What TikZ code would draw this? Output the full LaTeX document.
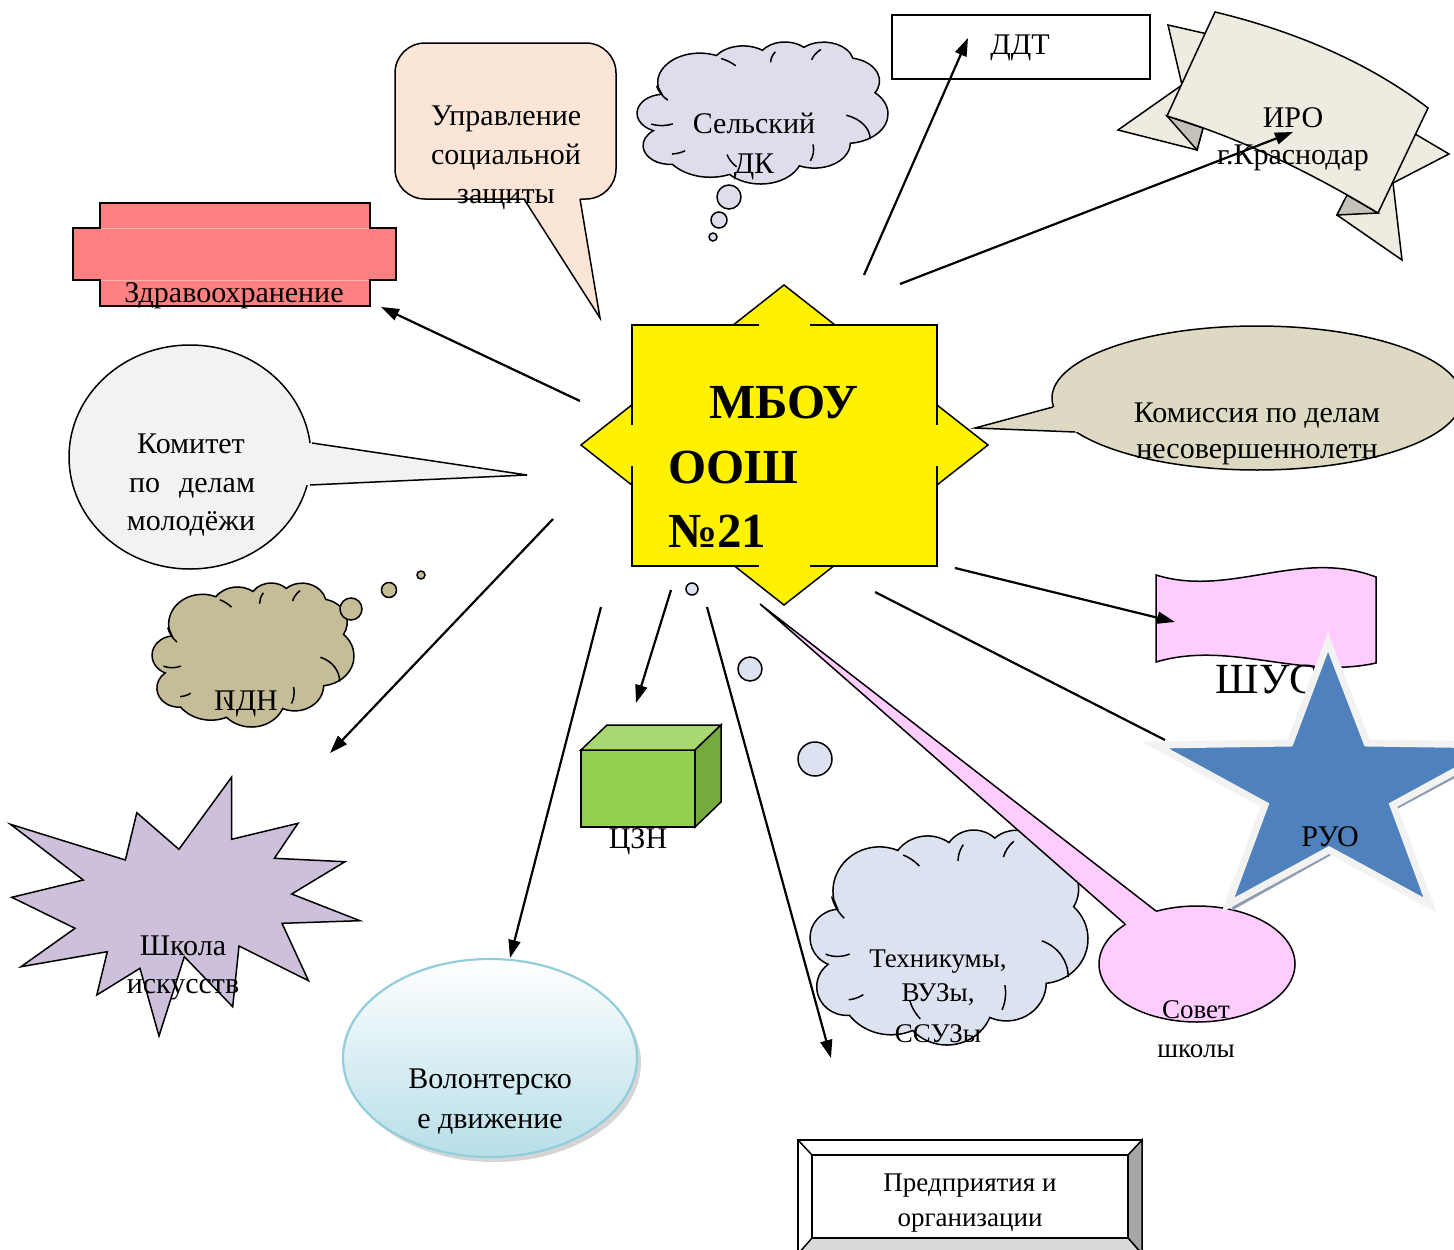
\documentclass[tikz,border=0pt]{standalone}
\usepackage{fontspec}
\setmainfont{Liberation Serif}
\usetikzlibrary{arrows.meta}
\definecolor{zdrav}{HTML}{FF8080}
\definecolor{zdravline}{HTML}{FFB3B3}
\definecolor{upr}{HTML}{FBE5D6}
\definecolor{lav}{HTML}{E1DCEB}
\definecolor{ribbon}{HTML}{EEECE1}
\definecolor{ribbongray}{HTML}{C4C2B8}
\definecolor{komis}{HTML}{DDD9C3}
\definecolor{komit}{HTML}{F2F2F2}
\definecolor{pdn}{HTML}{C4BD97}
\definecolor{shk}{HTML}{CCC0DA}
\definecolor{volf}{HTML}{B7DEE8}
\definecolor{volb}{HTML}{92CDDC}
\definecolor{cubefront}{HTML}{92D050}
\definecolor{cubetop}{HTML}{A9D872}
\definecolor{cubeside}{HTML}{76AA3E}
\definecolor{tech}{HTML}{DCE2F0}
\definecolor{pink}{HTML}{FFCCFF}
\definecolor{starblue}{HTML}{4F81BD}
\definecolor{starrim}{HTML}{F2F2F2}
\definecolor{starshadow}{HTML}{8E9CB2}
\definecolor{bevelgray}{HTML}{A6A6A6}
\definecolor{bevellight}{HTML}{D9D9D9}
% Word-style cloud: #1 fill, #2 left, #3 top, #4 right, #5 bottom
\newcommand{\wordcloud}[5]{%
 \begin{scope}[shift={(#2,#3)},xscale={(#4-#2)/403.9},yscale={(#5-#3)/444.65},shift={(-4.53,-0.23)}]
  \draw[outl,fill=#1] (39.00,143.70)
   arc[start angle=190.4875,delta angle=-123.7805,x radius=67.53pt,y radius=91.90pt]
   arc[start angle=144.1024,delta angle=-89.9452,x radius=53.33pt,y radius=72.67pt]
   arc[start angle=145.8079,delta angle=-99.7230,x radius=43.65pt,y radius=59.45pt]
   arc[start angle=130.9861,delta angle=-117.2417,x radius=48.57pt,y radius=65.95pt]
   arc[start angle=78.7089,delta angle=-109.0269,x radius=53.33pt,y radius=72.73pt]
   arc[start angle=46.2673,delta angle=-130.2690,x radius=67.75pt,y radius=92.20pt]
   arc[start angle=-0.6250,delta angle=-114.0333,x radius=57.85pt,y radius=78.67pt]
   arc[start angle=-22.4516,delta angle=-115.1726,x radius=67.52pt,y radius=92.15pt]
   arc[start angle=-66.2426,delta angle=-75.7110,x radius=77.20pt,y radius=105.43pt]
   arc[start angle=274.9421,delta angle=-146.7356,x radius=43.60pt,y radius=59.18pt]
   arc[start angle=246.8285,delta angle=-152.5189,x radius=43.45pt,y radius=59.45pt]
   -- cycle;
  \draw[outl]
   (46.93,261.77) arc[start angle=-86.742,end angle=-113.17,x radius=43.45pt,y radius=59.45pt]
   (46.93,261.77) arc[start angle=-86.742,end angle=-66,x radius=43.45pt,y radius=59.45pt]
   (69.28,348.99) arc[start angle=-73.61,end angle=-85.06,x radius=43.60pt,y radius=59.18pt]
   (69.28,348.99) arc[start angle=-73.61,end angle=-55,x radius=43.60pt,y radius=59.18pt]
   (164.78,390.90) arc[start angle=-137.62,end angle=-165,x radius=67.52pt,y radius=92.15pt]
   (288.27,347.51) arc[start angle=-6.45,end angle=-22.45,x radius=67.52pt,y radius=92.15pt]
   (288.27,347.51) arc[start angle=-6.45,end angle=10,x radius=67.52pt,y radius=92.15pt]
   (341.29,229.54) arc[start angle=70.2924,delta angle=-70.9174,x radius=57.85pt,y radius=78.67pt]
   (290.78,39.52) arc[start angle=149.18,end angle=130.99,x radius=48.57pt,y radius=65.95pt]
   (290.78,39.52) arc[start angle=149.18,end angle=165,x radius=48.57pt,y radius=65.95pt]
   (221.41,47.20) arc[start angle=163.49,end angle=145.81,x radius=43.65pt,y radius=59.45pt]
   (221.41,47.20) arc[start angle=163.49,end angle=180,x radius=43.65pt,y radius=59.45pt]
   (140.00,51.92) arc[start angle=66.71,end angle=42,x radius=67.53pt,y radius=91.90pt]
   (41.27,157.89) arc[start angle=-153.95,end angle=-167.3,x radius=67.53pt,y radius=91.90pt]
   (41.27,157.89) arc[start angle=-153.95,end angle=-135,x radius=67.53pt,y radius=91.90pt];
 \end{scope}}
\begin{document}
\begin{tikzpicture}[x=1pt,y=-1pt,
  outl/.style={draw=black,line width=1.5pt,line join=miter},
  conn/.style={line width=2.2pt,-{Triangle[length=18pt,width=12pt]}},
  plainconn/.style={line width=2.2pt},
  lbl/.style={font=\fontsize{30}{36}\selectfont,anchor=base,inner sep=0pt},
  smalllbl/.style={font=\fontsize{27}{32}\selectfont,anchor=base,inner sep=0pt},
  ctext/.style={font=\fontsize{49}{58}\selectfont\bfseries,anchor=base west,inner sep=0pt}
]
\useasboundingbox (0,0) rectangle (1454,1250);
\fill[white] (0,0) rectangle (1454,1250);

% ---------- Здравоохранение
\draw[outl,fill=zdrav] (100,203) -- (370,203) -- (370,228) -- (396,228) -- (396,280) -- (370,280) -- (370,306) -- (100,306) -- (100,280) -- (73,280) -- (73,228) -- (100,228) -- cycle;
\draw[zdravline,line width=1pt] (101,228) -- (369,228) (101,280) -- (369,280);
\node[lbl] (zdravT) at (234,302) {Здравоохранение};

% ---------- Управление социальной защиты
\draw[outl,fill=upr,rounded corners=30pt] (395,43) rectangle (616,199);
\fill[upr] (524,196.8) -- (580,196.8) -- (600,318) -- cycle;
\draw[outl] (524,199) -- (600,318) -- (580,199);
\node[lbl] (uprA) at (506,125) {Управление};
\node[lbl] (uprB) at (506,164) {социальной};
\node[lbl] (uprC) at (506,203) {защиты};

% ---------- Сельский ДК
\wordcloud{lav}{637}{42}{888}{184}
\draw[outl,fill=lav] (729,197) circle[radius=12];
\draw[outl,fill=lav] (719,220) circle[radius=8];
\draw[outl,fill=lav] (713,237) circle[radius=4];
\node[lbl] (selskA) at (754,133) {Сельский};
\node[lbl] (selskB) at (754,173) {ДК};

% ---------- ДДТ
\draw[outl,fill=white] (892,15) rectangle (1150,79);
\node[lbl] (ddt) at (1020,54) {ДДТ};

% ---------- ИРО ribbon
\draw[outl,fill=ribbon] (1168,25) -- (1212,35) -- (1203,128) -- (1197,150) -- (1118,130) -- (1182,85) -- cycle;
\draw[outl,fill=ribbongray] (1167,116) -- (1197,150) -- (1203,128) -- cycle;
\draw[outl,fill=ribbon] (1405,128) -- (1449,154) -- (1393,183) -- (1402,260) -- (1337,215) -- (1350,190) -- cycle;
\draw[outl,fill=ribbongray] (1337,215) -- (1378,213) -- (1347,195) -- cycle;
\draw[outl,fill=ribbon] (1215,12) .. controls (1290,30) and (1365,60) .. (1428,108) -- (1378,213) .. controls (1310,172) and (1240,138) .. (1167,116) -- cycle;
\node[lbl] (iroA) at (1293,127) {ИРО};
\node[lbl] (iroB) at (1293,164) {г.Краснодар};

% ---------- Центр: МБОУ ООШ №21
\draw[outl,fill=yellow] (784,285) -- (988,445) -- (784,605) -- (581,445) -- cycle;
\fill[yellow] (632,325) rectangle (937,566);
\draw[outl] (759,325) -- (632,325) -- (632,425) (632,466) -- (632,566) -- (759,566)
            (810,325) -- (937,325) -- (937,425) (937,466) -- (937,566) -- (810,566);
\node[minimum width=305pt,minimum height=241pt,inner sep=0pt] (school) at (784,445) {};
\node[ctext] (schA) at (709,418) {МБОУ};
\node[ctext] (schB) at (668,483) {ООШ};
\node[ctext] (schC) at (668,547) {№21};

% ---------- Комиссия по делам несовершеннолетних
\draw[outl,fill=komis] (1257,398) ellipse[x radius=205,y radius=72];
\fill[komis] (1053,407) -- (975,428) -- (1075,432) -- (1095,432) -- (1095,407) -- cycle;
\draw[outl] (1053,407) -- (975,428) -- (1075,432);
\node[lbl] (komA) at (1257,422) {Комиссия по делам};
\node[lbl] (komB) at (1257,458) {несовершеннолетн};

% ---------- Комитет по делам молодёжи
\draw[outl,fill=komit] (190,457) ellipse[x radius=121,y radius=112];
\fill[komit] (312,443) -- (527,475) -- (310,485) -- (295,485) -- (295,443) -- cycle;
\draw[outl] (312,443) -- (527,475) -- (310,485);
\node[lbl] (kmtA) at (191,453) {Комитет};
\node[lbl] (kmtB) at (192,492) {\hbox to 126pt{по\hfil делам}};
\node[lbl] (kmtC) at (191,530) {молодёжи};

% ---------- ПДН
\wordcloud{pdn}{152}{583}{354}{727}
\draw[outl,fill=pdn] (351,609) circle[radius=11];
\draw[outl,fill=pdn] (389,590) circle[radius=7.5];
\draw[outl,fill=pdn] (421,575) circle[radius=4];
\node[lbl] (pdnT) at (246,710) {ПДН};

% ---------- Школа искусств
\draw[outl,fill=shk] (10.5,824.3) -- (125.4,860) -- (136.8,812.7) -- (178.9,849.3) -- (231.5,777.3) -- (231.5,839.3) -- (298,823.3) -- (274.4,858.3) -- (345,861.7) -- (291.7,894) -- (359.9,920.7) -- (282,923.3) -- (308.5,980.7) -- (239,946) -- (232.7,1006.7) -- (184.3,956.7) -- (159,1036) -- (140,968.3) -- (96.8,995) -- (107.3,951.7) -- (21,966.7) -- (75,928.3) -- (11.8,897.3) -- (83.3,880) -- cycle;
\node[lbl] (shkA) at (183,955) {Школа};
\node[lbl] (shkB) at (183,993) {искусств};

% ---------- Волонтерское движение
\fill[gray!55,opacity=0.6] (494,1063) ellipse[x radius=147,y radius=99];
\draw[draw=volb,line width=2.2pt,top color=white,bottom color=volf] (490,1058) ellipse[x radius=147,y radius=99];
\node[lbl] (volA) at (490,1088) {Волонтерско};
\node[lbl] (volB) at (490,1128) {е движение};

% ---------- ЦЗН cube
\draw[outl,fill=cubefront] (581,750) rectangle (695,827);
\draw[outl,fill=cubetop] (581,750) -- (607,725) -- (721,725) -- (695,750) -- cycle;
\draw[outl,fill=cubeside] (695,750) -- (721,725) -- (721,802) -- (695,827) -- cycle;
\node[lbl] (czn) at (638,848) {ЦЗН};

% ---------- Техникумы, ВУЗы, ССУЗы
\draw[outl,fill=tech] (692,589) circle[radius=6];
\draw[outl,fill=tech] (750,669) circle[radius=12];
\draw[outl,fill=tech] (815,759) circle[radius=17];
\wordcloud{tech}{810}{830}{1088}{1045}
\node[smalllbl] (techA) at (938,967) {Техникумы,};
\node[smalllbl] (techB) at (938,1001) {ВУЗы,};
\node[smalllbl] (techC) at (938,1042) {ССУЗы};

% ---------- Совет школы
\draw[outl,fill=pink] (1197,964) ellipse[x radius=98,y radius=58];
\fill[pink] (1156,911) -- (760,604) -- (1125,924) -- (1160,940) -- cycle;
\draw[outl] (1156,911) -- (760,604) -- (1125,924);
\node[smalllbl] (sovA) at (1196,1018) {Совет};
\node[smalllbl] (sovB) at (1196,1057) {школы};

% ---------- ШУС
\draw[outl,fill=pink] (1156,575) .. controls (1230,598) and (1300,548) .. (1376,577) -- (1376,663) .. controls (1300,680) and (1230,640) .. (1156,662) -- cycle;
\node[font=\fontsize{43}{50}\selectfont,anchor=base,inner sep=0pt] (shus) at (1267,693) {ШУС};

% ---------- РУО star
\fill[starshadow] (1332,644) -- (1371,747) -- (1509,749) -- (1397,809) -- (1435,911) -- (1333,854) -- (1231,911) -- (1269,809) -- (1157,749) -- (1294,747) -- cycle;
\draw[line width=7pt,draw=starrim,fill=starblue,line join=miter] (1328,642) -- (1367,743) -- (1503,745) -- (1393,805) -- (1430,905) -- (1329,850) -- (1228,905) -- (1265,805) -- (1155,745) -- (1290,743) -- cycle;
\node[lbl] (ruo) at (1330,846) {РУО};

% ---------- Предприятия и организации
\draw[outl,fill=white] (798,1140) rectangle (1142,1254);
\draw[outl,fill=bevelgray] (1128,1155) -- (1142,1140) -- (1142,1254) -- (1128,1238) -- cycle;
\draw[outl,fill=bevellight] (812,1238) -- (1128,1238) -- (1142,1254) -- (798,1254) -- cycle;
\draw[outl] (798,1140) -- (812,1155);
\draw[outl] (812,1155) rectangle (1128,1238);
\node[smalllbl] (predA) at (970,1191) {Предприятия и};
\node[smalllbl] (predB) at (970,1226) {организации};

% ---------- connectors
\coordinate (zdS) at (580,401);  \coordinate (zdE) at (381,307);
\coordinate (ddtS) at (864,275); \coordinate (ddtE) at (968,38);
\coordinate (iroS) at (900,284); \coordinate (iroE) at (1293,132);
\coordinate (shusS) at (955,568); \coordinate (shusE) at (1175,622);
\coordinate (ruoS) at (875,592); \coordinate (ruoE) at (1165,740);
\coordinate (predS) at (707,607); \coordinate (predE) at (831,1058);
\coordinate (cznS) at (671,590); \coordinate (cznE) at (636,703);
\coordinate (volS) at (601,607); \coordinate (volE) at (510,958);
\coordinate (shkS) at (553,519); \coordinate (shkE) at (330,753);
\draw[conn] (zdS) -- (zdE);
\draw[conn] (ddtS) -- (ddtE);
\draw[conn] (iroS) -- (iroE);
\draw[conn] (shusS) -- (shusE);
\draw[plainconn] (ruoS) -- (ruoE);
\draw[conn] (predS) -- (predE);
\draw[conn] (cznS) -- (cznE);
\draw[conn] (volS) -- (volE);
\draw[conn] (shkS) -- (shkE);
\end{tikzpicture}
\end{document}
